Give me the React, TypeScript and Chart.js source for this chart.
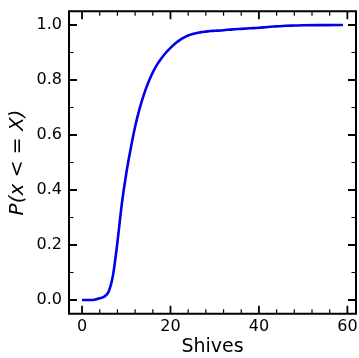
import React, { useEffect, useRef } from "react";
import { Chart, registerables } from "chart.js";

Chart.register(...registerables);

const shives: number[] = [0, 1, 2, 3, 4, 5, 6, 7, 8, 9, 10, 11, 12, 13, 14, 15, 16, 17, 18, 19, 20, 21, 22, 23, 24, 25, 26, 27, 28, 29, 30, 32, 34, 36, 38, 40, 42, 44, 46, 48, 50, 55, 59];
const cdf: number[] = [0.0, 0.0, 0.0, 0.002, 0.006, 0.012, 0.03, 0.09, 0.21, 0.35, 0.46, 0.55, 0.63, 0.695, 0.748, 0.792, 0.828, 0.857, 0.88, 0.9, 0.917, 0.932, 0.944, 0.954, 0.962, 0.967, 0.971, 0.974, 0.976, 0.978, 0.979, 0.981, 0.984, 0.986, 0.988, 0.99, 0.993, 0.995, 0.997, 0.998, 0.999, 0.9995, 1.0];

const xMajorTicks: number[] = [0, 20, 40, 60];
const xMinorTicks: number[] = [4, 8, 12, 16, 24, 28, 32, 36, 44, 48, 52, 56];
const yMajorTicks: number[] = [0, 0.2, 0.4, 0.6, 0.8, 1.0];
const yMinorTicks: number[] = [0.1, 0.3, 0.5, 0.7, 0.9];

const xTitle = "Shives";
const yTitle = "P(x < = X)";

const FONT = "'DejaVu Sans', sans-serif";

const tickPlugin = {
  id: "mplTicks",
  afterDraw(chart: any) {
    const { ctx, chartArea } = chart;
    const { left, right, top, bottom } = chartArea;
    const xs = chart.scales.x;
    const ys = chart.scales.y;
    ctx.save();
    ctx.strokeStyle = "#000";
    ctx.lineCap = "butt";
    const drawX = (vals: number[], len: number, w: number) => {
      ctx.lineWidth = w;
      vals.forEach((v) => {
        const px = xs.getPixelForValue(v);
        ctx.beginPath();
        ctx.moveTo(px, bottom);
        ctx.lineTo(px, bottom - len);
        ctx.moveTo(px, top);
        ctx.lineTo(px, top + len);
        ctx.stroke();
      });
    };
    const drawY = (vals: number[], len: number, w: number) => {
      ctx.lineWidth = w;
      vals.forEach((v) => {
        const py = ys.getPixelForValue(v);
        ctx.beginPath();
        ctx.moveTo(left, py);
        ctx.lineTo(left + len, py);
        ctx.moveTo(right, py);
        ctx.lineTo(right - len, py);
        ctx.stroke();
      });
    };
    drawX(xMajorTicks, 8, 1.8);
    drawX(xMinorTicks, 4.5, 1.2);
    drawY(yMajorTicks, 8, 1.8);
    drawY(yMinorTicks, 4.5, 1.2);
    ctx.lineWidth = 2;
    ctx.strokeRect(left, top, right - left, bottom - top);
    ctx.restore();
  },
};

export default function App() {
  const canvasRef = useRef<HTMLCanvasElement | null>(null);

  useEffect(() => {
    if (!canvasRef.current) return;
    const chart = new Chart(canvasRef.current, {
      type: "scatter",
      data: {
        datasets: [
          {
            data: shives.map((x, i) => ({ x, y: cdf[i] })),
            showLine: true,
            borderColor: "#0000ee",
            borderWidth: 2.6,
            pointRadius: 0,
            cubicInterpolationMode: "monotone",
            fill: false,
          },
        ],
      },
      options: {
        animation: false,
        responsive: true,
        maintainAspectRatio: false,
        layout: { padding: { left: 0, right: 3, top: 11.25, bottom: 0 } },
        plugins: {
          legend: { display: false },
          tooltip: { enabled: false },
        },
        scales: {
          x: {
            type: "linear",
            min: -2.95,
            max: 61.95,
            grid: { display: false, drawTicks: false },
            border: { display: false },
            afterBuildTicks: (scale: any) => {
              scale.ticks = xMajorTicks.map((v) => ({ value: v }));
            },
            afterFit: (scale: any) => {
              scale.height = 44.25;
              scale.paddingLeft = 0;
              scale.paddingRight = 0;
            },
            ticks: {
              padding: 3,
              color: "#000",
              font: { family: FONT, size: 16 },
              maxRotation: 0,
              autoSkip: false,
              callback: (v: any) => String(v),
            },
            title: {
              display: true,
              text: xTitle,
              color: "#000",
              font: { family: FONT, size: 19 },
              padding: { top: 0, bottom: 0 },
            },
          },
          y: {
            type: "linear",
            min: -0.05,
            max: 1.05,
            grid: { display: false, drawTicks: false },
            border: { display: false },
            afterBuildTicks: (scale: any) => {
              scale.ticks = yMajorTicks.map((v) => ({ value: v }));
            },
            afterFit: (scale: any) => {
              scale.width = 69;
              scale.paddingTop = 0;
              scale.paddingBottom = 0;
            },
            ticks: {
              padding: 7,
              color: "#000",
              font: { family: FONT, size: 16 },
              autoSkip: false,
              callback: (v: any) => Number(v).toFixed(1),
            },
            title: {
              display: true,
              text: yTitle,
              color: "#000",
              font: { family: FONT, size: 20, style: "italic" },
              padding: { top: 6, bottom: 0 },
            },
          },
        },
      },
      plugins: [tickPlugin],
    } as any);
    return () => chart.destroy();
  }, []);

  return (
    <div style={{ position: "fixed", left: 0, top: 0, width: 359, height: 358, background: "#fff" }}>
      <canvas ref={canvasRef} />
    </div>
  );
}
